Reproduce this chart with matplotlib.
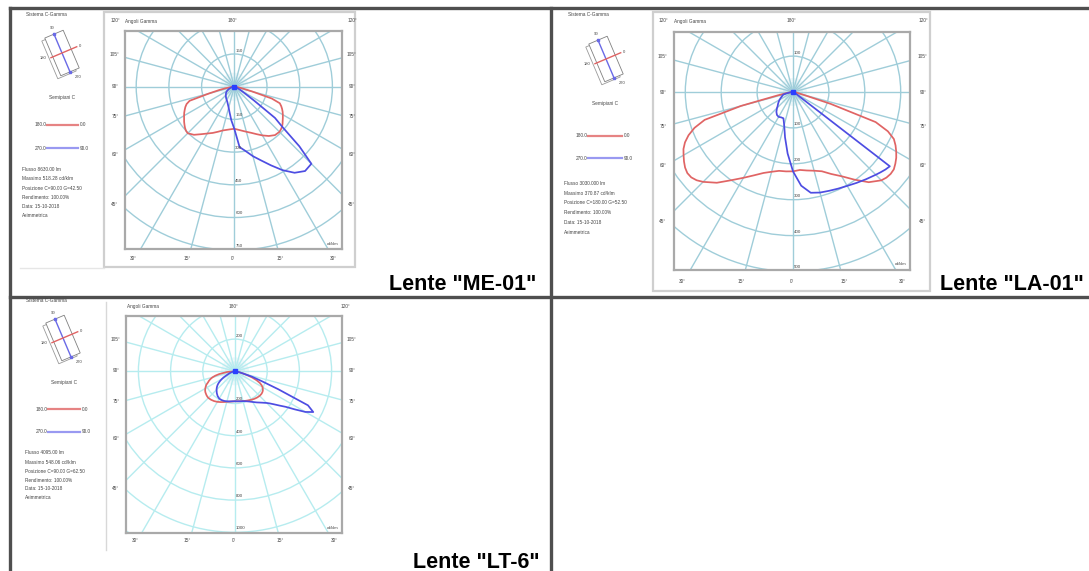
import numpy as np
import matplotlib
matplotlib.use("Agg")
import matplotlib.pyplot as plt
from matplotlib.patches import Circle, Polygon, Rectangle

plt.rcParams['font.family'] = ['Liberation Sans', 'DejaVu Sans']

# ---------------- DATA (gamma angles in degrees, intensities in cd/klm) ----------------
GAMMA = [0, 5, 10, 15, 20, 25, 30, 35, 40, 45, 47.5, 50, 52.5, 55, 57.5, 60,
         62.5, 65, 67.5, 70, 72.5, 75, 77.5, 80, 85, 90]

ME01_C0 = [193, 198, 205, 214, 225, 240, 258, 276, 290, 293, 290, 286, 279, 271, 264, 257,
           250, 242, 233, 222, 180, 85, 42, 25, 10, 0]
ME01_C180 = [193, 196, 201, 208, 220, 234, 248, 266, 288, 302, 300, 295, 288, 281, 273, 266,
             259, 251, 243, 233, 215, 120, 72, 40, 12, 0]
ME01_C90 = [193, 278, 300, 330, 360, 398, 442, 482, 505, 500, 405, 290, 235, 110, 60, 40,
            28, 20, 15, 11, 8, 6, 4, 3, 1, 0]
ME01_C270 = [193, 155, 122, 100, 86, 76, 70, 65, 60, 55, 52, 50, 48, 45, 42, 38,
             34, 30, 26, 22, 18, 14, 10, 7, 3, 0]

LA01_C0 = [221, 218, 222, 227, 235, 252, 271, 298, 328, 348, 353, 355, 354, 348, 341, 332,
           322, 310, 286, 245, 110, 30, 15, 10, 4, 0]
LA01_C180 = [221, 222, 223, 230, 240, 256, 276, 300, 330, 354, 364, 370, 371, 367, 360, 352,
             344, 332, 315, 292, 258, 150, 45, 20, 6, 0]
LA01_C90 = [221, 262, 285, 290, 293, 297, 302, 309, 317, 326, 331, 336, 340, 22, 14, 10,
            8, 7, 6, 5, 4, 3, 2, 2, 1, 0]
LA01_C270 = [221, 172, 128, 95, 78, 78, 80, 78, 72, 63, 58, 55, 52, 49, 46, 43,
             40, 37, 34, 32, 30, 28, 20, 12, 5, 0]

LT6_C0 = [186, 187, 189, 191, 195, 199, 204, 209, 213, 216, 216, 216, 214, 211, 205, 198,
          186, 170, 145, 115, 80, 50, 30, 18, 7, 0]
LT6_C180 = [186, 188, 191, 196, 203, 211, 219, 226, 231, 234, 233, 231, 228, 225, 220, 213,
            205, 196, 182, 172, 160, 145, 125, 100, 50, 0]
LT6_C90 = [186, 187, 189, 192, 198, 207, 220, 236, 254, 278, 296, 320, 350, 385, 440, 505,
           548, 500, 290, 170, 110, 48, 28, 16, 6, 0]
LT6_C270 = [186, 187, 190, 193, 196, 197, 196, 188, 176, 162, 154, 145, 135, 122, 108, 92,
            75, 56, 45, 36, 29, 22, 16, 11, 5, 0]

ME01_RINGS = [150, 300, 450, 600, 750]
LA01_RINGS = [100, 200, 300, 400, 500]
LT6_RINGS = [200, 400, 600, 800, 1000]

SIDE_ANGLES = ['105°', '90°', '75°', '60°', '45°']
BOTTOM_ANGLES = ['30°', '15°', '0°', '15°', '30°']

ME01_INFO = ['Flusso 8630.00 lm', 'Massimo 518.28 cd/klm', 'Posizione C=90.00 G=42.50',
             'Rendimento: 100.00%', 'Data: 15-10-2018', 'Asimmetrica']
LA01_INFO = ['Flusso 3030.000 lm', 'Massimo 370.87 cd/klm', 'Posizione C=180.00 G=52.50',
             'Rendimento: 100.00%', 'Data: 15-10-2018', 'Asimmetrica']
LT6_INFO = ['Flusso 4095.00 lm', 'Massimo 548.06 cd/klm', 'Posizione C=90.00 G=62.50',
            'Rendimento: 100.00%', 'Data: 15-10-2018', 'Asimmetrica']

TITLES = ['Lente "ME-01"', 'Lente "LA-01"', 'Lente "LT-6"']

# ---------------- FIGURE ----------------
W, H = 1089, 571
fig = plt.figure(figsize=(W / 100, H / 100), dpi=100)
canvas = fig.add_axes([0, 0, 1, 1])
canvas.set_xlim(0, W)
canvas.set_ylim(H, 0)
canvas.axis('off')

RED = '#e06464'
BLUE = '#4d4de2'
TXT = '#444444'
SMALL = 3.4


def draw_icon(cx, cy):
    a = np.deg2rad(23)
    u = np.array([np.sin(a), np.cos(a)])
    v = np.array([np.cos(a), -np.sin(a)])
    c = np.array([cx, cy])
    for off, ec in [((-3, 3), '#9a9a9a'), ((0, 0), '#808080')]:
        cc = c + np.array(off)
        pts = [cc - 10 * v - 20.5 * u, cc + 10 * v - 20.5 * u,
               cc + 10 * v + 20.5 * u, cc - 10 * v + 20.5 * u]
        canvas.add_patch(Polygon(pts, closed=True, fc='white', ec=ec, lw=0.6))
    p1, p2 = c - 21 * u, c + 21 * u
    canvas.plot([p1[0], p2[0]], [p1[1], p2[1]], color='#6a6ae6', lw=1.0)
    canvas.plot([p1[0], p2[0]], [p1[1], p2[1]], 's', color='#6a6ae6', ms=1.8)
    q1, q2 = c - 12 * v, c + 16 * v
    canvas.plot([q1[0], q2[0]], [q1[1], q2[1]], color=RED, lw=1.0)
    for lab, (dx, dy) in zip(['90', '0', '180', '270'],
                             [(-10, -25), (18, -7), (-19, 5), (16, 24)]):
        canvas.text(cx + dx, cy + dy, lab, fontsize=3.0, color=TXT,
                    ha='center', va='center')


def draw_info(sys_xy, icon_xy, semi_xy, leg_ys, leg_x, text_x, text_ys, info):
    canvas.text(sys_xy[0], sys_xy[1], 'Sistema C-Gamma', fontsize=SMALL, color=TXT,
                ha='center', va='center')
    draw_icon(*icon_xy)
    canvas.text(semi_xy[0], semi_xy[1], 'Semipiani C', fontsize=SMALL, color=TXT,
                ha='center', va='center')
    for (l, r, col), y in zip([('180.0', '0.0', RED), ('270.0', '90.0', '#8080ee')], leg_ys):
        canvas.text(leg_x[0] - 1, y, l, fontsize=SMALL, color=TXT, ha='right', va='center')
        canvas.plot([leg_x[0], leg_x[1]], [y, y], color=col, lw=1.6, alpha=0.8)
        canvas.text(leg_x[1] + 2, y, r, fontsize=SMALL, color=TXT, ha='left', va='center')
    for s, y in zip(info, text_ys):
        canvas.text(text_x, y, s, fontsize=SMALL, color=TXT, ha='left', va='center')


def draw_diagram(box, center, pps, rings, curves, grid_color, labels):
    left, top, right, bottom = box
    cx, cy = center
    step = rings[1] - rings[0]
    u = step / pps
    ax = fig.add_axes([left / W, 1 - bottom / H, (right - left) / W, (bottom - top) / H])
    ax.set_xlim((left - cx) * u, (right - cx) * u)
    ax.set_ylim((cy - bottom) * u, (cy - top) * u)
    ax.set_xticks([])
    ax.set_yticks([])
    for s in ax.spines.values():
        s.set_color('#a9a9a9')
        s.set_linewidth(1.6)
    big = step * 12
    for k in range(1, 10):
        ax.add_patch(Circle((0, 0), k * step, fill=False, ec=grid_color, lw=1.0))
    for ang in range(0, 360, 15):
        t = np.deg2rad(ang)
        ax.plot([0, big * np.sin(t)], [0, -big * np.cos(t)], color=grid_color, lw=1.0)
    for r, al in [(14, 0.18), (10, 0.25), (6, 0.35), (3, 0.5)]:
        ax.add_patch(Circle((0, 0), r * u, color='#a9dbe8', alpha=al, lw=0))
    # ring labels
    ax.text(1 * u, rings[0] + 3.5 * u, str(rings[0]), fontsize=3.2, color=TXT,
            ha='left', va='center')
    for rv in rings:
        ax.text(1 * u, -rv + 4 * u, str(rv), fontsize=3.2, color=TXT, ha='left', va='center')
    ax.text(0.985, 0.015, 'cd/klm', transform=ax.transAxes, fontsize=3.0, color=TXT,
            ha='right', va='bottom')
    g = np.deg2rad(np.array(GAMMA))
    for (lv, rv, col) in curves:
        lv = np.array(lv, float)
        rv = np.array(rv, float)
        x = np.concatenate([(-lv * np.sin(g))[::-1], rv * np.sin(g)])
        y = np.concatenate([(-lv * np.cos(g))[::-1], -rv * np.cos(g)])
        ax.plot(x, y, color=col, lw=1.25, solid_joinstyle='round')
    ax.plot([0], [0], 's', color='#2a40ff', ms=2.5)
    # angle labels around the box
    lx, rx, side_ys, by, bxs, ty, tops = labels
    for s, y in zip(SIDE_ANGLES, side_ys):
        canvas.text(lx, y, s, fontsize=SMALL, color=TXT, ha='center', va='center')
        canvas.text(rx, y, s, fontsize=SMALL, color=TXT, ha='center', va='center')
    for s, x in zip(BOTTOM_ANGLES, bxs):
        canvas.text(x, by, s, fontsize=SMALL, color=TXT, ha='center', va='center')
    for s, x, ha in tops:
        canvas.text(x, ty, s, fontsize=SMALL, color=TXT, ha=ha, va='center')


# ---------------- table lines ----------------
lc = '#4f4f4f'
canvas.plot([10, W], [8, 8], color=lc, lw=2.4)
canvas.plot([10, 10], [8, H], color=lc, lw=2.4)
canvas.plot([551, 551], [8, H], color=lc, lw=2.4)
canvas.plot([10, W], [297, 297], color=lc, lw=2.4)

# panels
canvas.add_patch(Rectangle((104, 12), 251, 255, fill=False, ec='#cfcfcf', lw=1.6))
canvas.plot([20, 104], [268, 268], color='#e6e6e6', lw=1.0)
canvas.add_patch(Rectangle((653, 12), 277, 279, fill=False, ec='#cfcfcf', lw=1.6))
canvas.plot([106, 106], [302, 550], color='#d8d8d8', lw=1.0)

# ---------------- ME-01 ----------------
draw_info((46, 14), (62, 53), (62, 97), (125, 148), (47, 78), 22,
          [169.3, 179, 188.3, 197.3, 206.3, 215.3], ME01_INFO)
draw_diagram((125, 31, 342, 249), (234.3, 86.7), 32.7, ME01_RINGS,
             [(ME01_C180, ME01_C0, RED), (ME01_C270, ME01_C90, BLUE)], '#9fcdd9',
             (115, 352, [54, 87, 117, 154, 204], 258, [133, 187, 233, 280, 333], 21,
              [('120°', 115, 'center'), ('Angoli Gamma', 125, 'left'),
               ('180°', 233, 'center'), ('120°', 352, 'center')]))

# ---------------- LA-01 ----------------
draw_info((588, 14), (606, 59), (605, 103.3), (135.7, 158.3), (588, 622), 564,
          [183.3, 193.3, 202, 212, 222, 232.7], LA01_INFO)
draw_diagram((674, 32, 910, 270), (793, 92), 35.9, LA01_RINGS,
             [(LA01_C180, LA01_C0, RED), (LA01_C270, LA01_C90, BLUE)], '#9fcdd9',
             (663, 923, [56.7, 92.7, 126.7, 165.7, 221.7], 281.7, [682, 741, 792, 844, 902], 21,
              [('120°', 663, 'center'), ('Angoli Gamma', 674, 'left'),
               ('180°', 792, 'center'), ('120°', 923, 'center')]))

# ---------------- LT-6 ----------------
draw_info((46, 300), (63, 338), (63.6, 382.3), (409.3, 431.7), (48, 80), 25,
          [452.7, 462, 471.3, 480, 488.7, 497.3], LT6_INFO)
draw_diagram((126, 316, 342, 533), (235, 371.3), 32.2, LT6_RINGS,
             [(LT6_C180, LT6_C0, RED), (LT6_C270, LT6_C90, BLUE)], '#b6ecef',
             (116, 352, [339.3, 371, 401.7, 438.3, 488.3], 541, [135, 187.5, 234, 280, 334],
              306.7,
              [('Angoli Gamma', 127, 'left'), ('180°', 234, 'center'),
               ('120°', 345, 'center')]))

# ---------------- titles ----------------
for s, (x, y) in zip(TITLES, [(463, 284), (1012, 285), (476, 562)]):
    canvas.text(x, y, s, fontsize=15.5, fontweight='bold', color='black',
                ha='center', va='center')

fig.savefig('out.png', dpi=100)
